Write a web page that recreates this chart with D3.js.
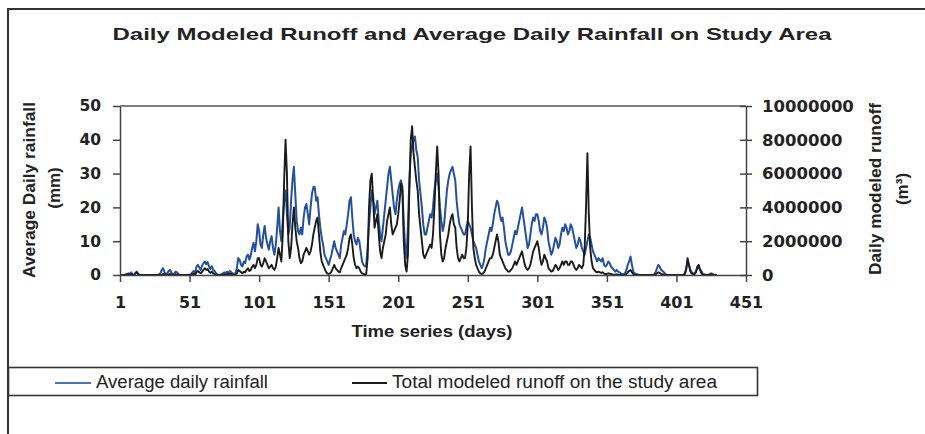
<!DOCTYPE html>
<html>
<head>
<meta charset="utf-8">
<script src="https://cdn.jsdelivr.net/npm/d3@7"></script>
<style>
  body { margin: 0; background: #fff; }
  svg { display: block; }
</style>
</head>
<body>
<div id="chart"></div>
<script>
// ---- data ----
const chartTitle = "Daily Modeled Runoff and Average Daily Rainfall on Study Area";
const xTicks = [1, 51, 101, 151, 201, 251, 301, 351, 401, 451];
const rainTicks = [0, 10, 20, 30, 40, 50];
const runoffTicks = [0, 2000000, 4000000, 6000000, 8000000, 10000000];
const seriesNames = ["Average daily rainfall", "Total modeled runoff on the study area"];

// average daily rainfall (mm), day 1 .. 430
const rainfall = [
  0,0,0,0,0.2,0.3,0.5,0.3,0.8,0.2,
  0,0.6,1,0.4,0,0,0,0,0,0,
  0,0,0,0,0,0,0,0,0.2,0.5,
  1.5,2,0.8,0.3,0.5,1.2,1.5,0.6,0.2,0.4,
  1,0.8,0.3,0,0,0,0,0,0,0,
  0,0.3,0.8,1.2,0.5,2.5,3,2.2,1.5,2.8,
  3.5,4,3.2,3.8,2.5,1.8,2.6,1.4,1.2,0.5,
  0.2,0,0,0.3,0.5,0.8,0.4,1,0.6,1.2,
  0.8,0.5,0.3,0.6,2,5,4.5,3,2.5,4,
  3.5,5.5,6,4.5,5.8,8,9.5,7,10,15,
  13,9,8,12,14.5,11,9,7.5,10,11.5,
  8,6,9,14,20,13,10,16,22,25,
  18,12,14,22,28,32,24,16,13,12,
  14,12,17,20,21,18,15,20,24,26,
  26,22,23,18,14,11,9,6,5,4,
  3,4.5,6,8,10,8,7,6,5,9,
  11,13,12,15,18,22,23,17,12,10,
  9,11,10,7,4,3,2.5,3,8,15,
  20,25,23,18,20,22,16,12,10,14,
  18,22,26,30,32,28,24,20,18,22,
  25,27,28,26,15,8,5,15,28,36,
  38,40,41,37,35,28,24,20,15,12,
  12,14,16,18,17,20,25,28,30,26,
  20,16,13,15,20,25,28,30,31,32,
  30,28,22,18,15,14,13,12,12,14,
  16,15,14,12,10,9,8,6,4,3,
  2,3,5,8,10,12,14,13,15,18,
  20,22,21,18,16,17,14,10,8,6,
  6,7,9,11,13,12,14,16,18,20,
  17,14,11,8,9,12,15,17,16,18,
  18,16,13,12,14,17,16,14,10,8,
  6,7,9,11,10,8,9,12,14,13,
  15,14,12,13,15,14,12,10,8,9,
  11,10,8,7,6,8,10,12,11,9,
  7,6,5,4,5,4.5,4,5,3,2.5,
  3,4,3.5,2.5,2,1.5,1,1.5,1,0.8,
  0.5,0.3,0.2,0.5,1.5,3,4,5.5,3,1,
  0.5,0.3,0.2,0,0,0,0,0,0,0,
  0,0,0,0,0.2,0.8,2,3,2.5,1.5,
  1.2,0.8,0.3,0,0,0,0,0,0,0,
  0,0,0,0,0,0,0.5,2,4,3,
  1.5,0.8,0.5,0.4,1,2,2.2,1.8,1,0.3,
  0.2,0,0,0,0.3,0.5,0.3,0,0,0
];

// total modeled runoff on the study area (m3), day 1 .. 430
const runoff = [
  0,0,0,0,0,20000,40000,20000,60000,20000,
  0,80000,160000,40000,0,0,0,0,0,0,
  0,0,0,0,0,0,0,0,0,0,
  0,60000,40000,0,0,40000,60000,20000,0,0,
  40000,20000,0,0,0,0,0,0,0,0,
  0,0,40000,80000,20000,160000,240000,160000,100000,200000,
  300000,400000,300000,360000,200000,120000,200000,100000,60000,20000,
  0,0,0,0,20000,40000,20000,60000,40000,80000,
  60000,20000,0,20000,100000,300000,240000,160000,100000,200000,
  160000,300000,400000,240000,300000,500000,600000,400000,600000,1000000,
  1000000,600000,500000,700000,1000000,800000,600000,400000,500000,600000,
  400000,300000,500000,1000000,1600000,1200000,800000,2400000,5600000,8000000,
  6000000,2000000,1000000,1600000,3000000,4000000,2800000,2000000,1600000,1000000,
  700000,800000,1200000,1400000,1600000,1400000,1200000,1400000,1800000,2400000,
  2800000,3200000,3400000,2400000,1400000,800000,600000,400000,200000,100000,
  60000,100000,200000,400000,600000,400000,300000,200000,160000,400000,
  600000,800000,1000000,1200000,1600000,2200000,2400000,1800000,1000000,600000,
  400000,500000,400000,200000,100000,60000,40000,60000,1000000,4000000,
  5600000,6000000,4400000,2800000,3200000,3600000,2400000,1400000,1000000,1600000,
  2000000,2400000,3200000,3600000,4000000,3000000,2400000,2600000,2800000,3000000,
  3600000,4400000,5400000,5000000,2000000,600000,200000,1200000,5000000,8000000,
  8800000,7200000,6400000,5600000,5000000,3600000,2800000,2000000,1200000,1000000,
  1200000,1400000,1600000,1800000,1600000,2400000,4000000,6000000,7600000,6000000,
  2400000,1200000,800000,1000000,1600000,2000000,2400000,3000000,3400000,3600000,
  3000000,2800000,1600000,1000000,800000,1000000,1200000,1000000,1000000,1600000,
  3000000,6000000,7600000,4000000,1600000,1000000,600000,400000,200000,100000,
  60000,100000,200000,400000,600000,800000,1000000,1000000,1200000,1600000,
  2000000,2400000,2000000,1200000,1000000,800000,600000,400000,300000,200000,
  200000,300000,400000,600000,800000,600000,800000,1000000,1200000,1400000,
  1000000,600000,400000,300000,400000,600000,1000000,1400000,1600000,1800000,
  2000000,1600000,1000000,600000,800000,1200000,1000000,800000,400000,300000,
  200000,240000,400000,600000,500000,300000,400000,600000,800000,600000,
  800000,800000,600000,600000,800000,800000,600000,400000,300000,400000,
  600000,500000,400000,600000,1600000,4000000,7200000,3600000,1600000,800000,
  400000,300000,200000,160000,200000,160000,120000,160000,80000,60000,
  60000,100000,80000,60000,40000,20000,20000,40000,20000,0,
  0,0,0,20000,60000,160000,240000,300000,160000,40000,
  0,0,0,0,0,0,0,0,0,0,
  0,0,0,0,0,40000,100000,160000,120000,60000,
  40000,20000,0,0,0,0,0,0,0,0,
  0,0,0,0,0,0,40000,300000,1000000,600000,
  200000,80000,60000,40000,160000,500000,600000,300000,100000,20000,
  0,0,0,0,20000,40000,20000,0,0,0
];

// ---- layout ----
const W = 925, H = 434;
const plot = {left: 120, right: 746, top: 106, bottom: 275};
const rainColor = "#24519e";
const runoffColor = "#1b1b1b";
const inkColor = "#222";
const boldFont = "'DejaVu Sans', sans-serif";
const armFont = "'Liberation Sans', Arial, sans-serif";

const svg = d3.select("#chart").append("svg")
    .attr("width", W)
    .attr("height", H);

svg.append("rect").attr("width", W).attr("height", H).attr("fill", "#fff");

// page frame (top and left edges of the scanned box)
svg.append("path")
    .attr("d", "M8,434V9H925")
    .attr("fill", "none")
    .attr("stroke", "#333")
    .attr("stroke-width", 2);

var x = d3.scaleLinear().domain([1, 451]).range([plot.left, plot.right]);
var yRain = d3.scaleLinear().domain([0, 50]).range([plot.bottom, plot.top]);
var yRunoff = d3.scaleLinear().domain([0, 10000000]).range([plot.bottom, plot.top]);

// title
svg.append("text")
    .attr("x", 472).attr("y", 40)
    .attr("text-anchor", "middle")
    .attr("textLength", 719)
    .attr("lengthAdjust", "spacingAndGlyphs")
    .style("font-family", armFont)
    .style("font-weight", "bold")
    .style("font-size", "17px")
    .style("fill", inkColor)
    .text(chartTitle);

// top edge of the plot area
svg.append("line")
    .attr("x1", plot.left).attr("x2", plot.right)
    .attr("y1", plot.top).attr("y2", plot.top)
    .attr("stroke", "#555")
    .attr("stroke-width", 1.5);

// series (rainfall first, runoff drawn over it)
let rainLine = d3.line()
    .x((d, i) => x(i + 1))
    .y(d => yRain(d));
let runoffLine = d3.line()
    .x((d, i) => x(i + 1))
    .y(d => yRunoff(d));

svg.append("path")
    .datum(rainfall)
    .attr("d", rainLine)
    .attr("fill", "none")
    .attr("stroke", rainColor)
    .attr("stroke-width", 2)
    .attr("stroke-linejoin", "round");

svg.append("path")
    .datum(runoff)
    .attr("d", runoffLine)
    .attr("fill", "none")
    .attr("stroke", runoffColor)
    .attr("stroke-width", 1.9)
    .attr("stroke-linejoin", "round");

// axes
function styleAxis(g, size) {
    g.select(".domain").attr("stroke", "#444").attr("stroke-width", 1.5);
    g.selectAll(".tick line").attr("stroke", "#444").attr("stroke-width", 1.5);
    g.selectAll(".tick text")
        .style("font-family", boldFont)
        .style("font-weight", "bold")
        .style("font-size", size + "px")
        .style("fill", inkColor);
}

svg.append("g")
    .attr("transform", "translate(0," + plot.bottom + ")")
    .call(d3.axisBottom(x).tickValues(xTicks).tickSizeInner(7).tickSizeOuter(0).tickPadding(15).tickFormat(d3.format("d")))
    .call(g => styleAxis(g, 16));

svg.append("g")
    .attr("transform", "translate(" + plot.left + ",0)")
    .call(d3.axisLeft(yRain).tickValues(rainTicks).tickSizeInner(7).tickSizeOuter(0).tickPadding(12))
    .call(g => styleAxis(g, 15.5));

svg.append("g")
    .attr("transform", "translate(" + plot.right + ",0)")
    .call(d3.axisRight(yRunoff).tickValues(runoffTicks).tickSizeInner(6).tickSizeOuter(0).tickPadding(10).tickFormat(d3.format("d")))
    .call(g => styleAxis(g, 16.5))
    .call(g => g.selectAll(".tick line").attr("x1", -6));

// axis titles
function axisTitle(txt, tx, ty, rot, len) {
    let t = svg.append("text")
        .attr("transform", "translate(" + tx + "," + ty + ")" + (rot ? " rotate(-90)" : ""))
        .attr("text-anchor", "middle")
        .style("font-family", armFont)
        .style("font-weight", "bold")
        .style("font-size", "17px")
        .style("fill", inkColor)
        .text(txt);
    if (len) t.attr("textLength", len).attr("lengthAdjust", "spacingAndGlyphs");
    return t;
}
axisTitle("Average Daily rainfall", 35, 190, true, 176);
axisTitle("(mm)", 60, 188, true);
axisTitle("Daily modeled runoff", 881, 189, true, 172);
axisTitle("(m³)", 908, 189, true);
axisTitle("Time series (days)", 432, 337, false, 161);

// legend
const legend = svg.append("g");
legend.append("rect")
    .attr("x", 8.5).attr("y", 367.5)
    .attr("width", 749).attr("height", 28)
    .attr("fill", "#fff")
    .attr("stroke", "#333")
    .attr("stroke-width", 1.6);

const legendItems = [
    {name: seriesNames[0], color: "#4a74b4", x1: 55, x2: 91, tx: 96, len: 172},
    {name: seriesNames[1], color: runoffColor, x1: 352, x2: 387, tx: 392, len: 325}
];
legendItems.forEach(function (it) {
    legend.append("line")
        .attr("x1", it.x1).attr("x2", it.x2)
        .attr("y1", 383).attr("y2", 383)
        .attr("stroke", it.color)
        .attr("stroke-width", 2);
    legend.append("text")
        .attr("x", it.tx).attr("y", 388)
        .attr("textLength", it.len)
        .attr("lengthAdjust", "spacingAndGlyphs")
        .style("font-family", armFont)
        .style("font-size", "18px")
        .style("fill", inkColor)
        .text(it.name);
});
</script>
</body>
</html>
